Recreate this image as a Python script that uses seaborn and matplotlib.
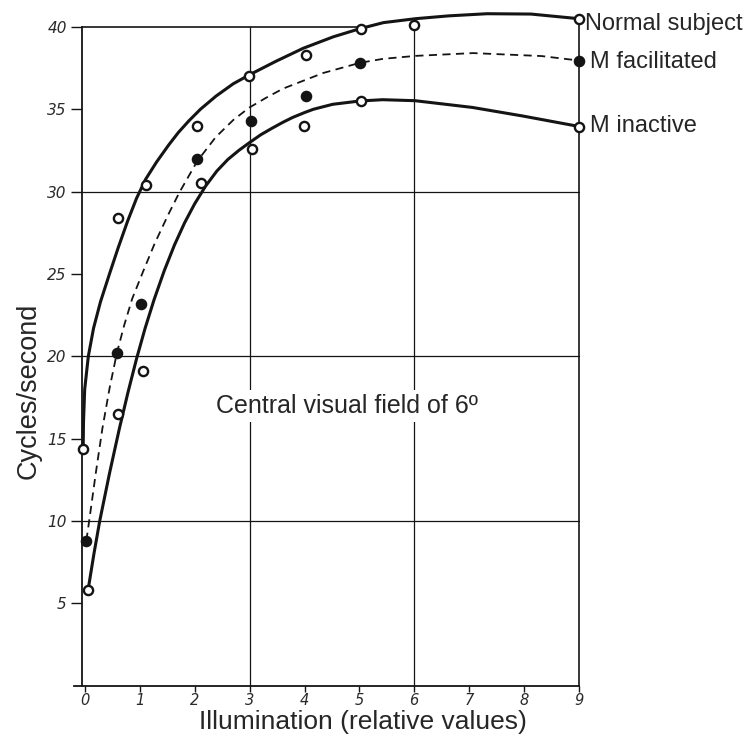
import matplotlib
matplotlib.use("Agg")
import matplotlib.pyplot as plt
import seaborn as sns
import pandas as pd

norm_x = [-0.04, 0.60, 1.11, 2.03, 2.98, 4.02, 5.03, 6.00, 9.00]
norm_y = [14.4, 28.4, 30.4, 34.0, 37.0, 38.3, 39.9, 40.1, 40.5]
fac_x = [0.02, 0.57, 1.02, 2.04, 3.02, 4.03, 5.01, 9.00]
fac_y = [8.8, 20.2, 23.2, 32.0, 34.3, 35.8, 37.8, 37.9]
ina_x = [0.05, 0.59, 1.05, 2.11, 3.04, 3.99, 5.03, 9.00]
ina_y = [5.8, 16.5, 19.1, 30.5, 32.6, 34.0, 35.5, 33.9]

# ---- hand-drawn fitted curves ----
norm_cx = [-0.04, -0.034, -0.012, 0.054, 0.149, 0.275, 0.44, 0.60, 0.77, 0.935, 1.10, 1.30,
           1.525, 1.70, 1.89, 2.10, 2.385, 2.70, 3.00, 3.47, 3.974, 4.526, 5.018, 5.44,
           6.03, 6.63, 7.33, 8.13, 9.0]
norm_cy = [14.4, 16.0, 18.0, 20.0, 21.7, 23.3, 25.0, 26.6, 28.2, 29.6, 30.75, 31.8,
           32.85, 33.6, 34.3, 35.0, 35.8, 36.55, 37.1, 37.9, 38.7, 39.4, 39.9, 40.26,
           40.5, 40.67, 40.8, 40.78, 40.5]
fac_cx = [0.018, 0.082, 0.19, 0.31, 0.438, 0.575, 0.71, 0.855, 1.06, 1.265, 1.512, 1.716,
          2.042, 2.377, 2.70, 2.992, 3.30, 3.606, 4.339, 5.011, 5.432, 6.023, 7.073, 8.323, 9.0]
fac_cy = [8.8, 10.3, 12.9, 15.6, 18.0, 20.2, 21.9, 23.5, 25.2, 26.85, 28.6, 29.95,
          31.85, 33.3, 34.35, 35.1, 35.7, 36.25, 37.2, 37.82, 38.06, 38.24, 38.41, 38.23, 37.96]
ina_cx = [0.049, 0.156, 0.262, 0.441, 0.62, 0.777, 0.934, 1.09, 1.255, 1.44, 1.625, 1.81,
          1.993, 2.197, 2.40, 2.60, 2.80, 2.985, 3.20, 3.408, 3.60, 3.781, 4.00, 4.162,
          4.513, 5.004, 5.424, 6.014, 7.063, 7.981, 9.0]
ina_cy = [5.8, 8.0, 10.0, 12.9, 15.6, 17.8, 19.85, 21.7, 23.45, 25.2, 26.75, 28.1,
          29.25, 30.35, 31.25, 31.95, 32.5, 32.95, 33.45, 33.85, 34.2, 34.5, 34.8, 35.0,
          35.3, 35.5, 35.58, 35.52, 35.11, 34.59, 33.96]

x_ticks = [0, 1, 2, 3, 4, 5, 6, 7, 8, 9]
y_ticks = [5, 10, 15, 20, 25, 30, 35, 40]
series_labels = ["Normal subject", "M facilitated", "M inactive"]

sns.set_style("ticks")
plt.rcParams["font.family"] = ["Liberation Sans", "DejaVu Sans"]

W, H = 755, 742
fig = plt.figure(figsize=(W / 100, H / 100), dpi=100)
# x px = 85.4 + 54.8*x ; y px = 685.7 - 16.47*y
ax = fig.add_axes([74.4 / W, (H - 685.7) / H, 9.2 * 54.8 / W, 40 * 16.47 / H])
ax.set_xlim(-0.2, 9.0)
ax.set_ylim(0, 40)

ink = "#141414"
AX0 = -0.06
# frame & grid
ax.plot([AX0, 5.0], [40, 40], color=ink, lw=1.2, zorder=1, clip_on=False)
ax.plot([9, 9], [0, 40.5], color=ink, lw=1.2, zorder=1, clip_on=False)
ax.plot([3, 3], [0, 40], color=ink, lw=0.9, zorder=1)
ax.plot([6, 6], [0, 40.1], color=ink, lw=0.9, zorder=1, clip_on=False)
for gy in [10, 20, 30]:
    ax.plot([AX0, 9], [gy, gy], color=ink, lw=0.9, zorder=1)

# curves
curves = pd.concat([
    pd.DataFrame({"x": norm_cx, "y": norm_cy, "s": "n"}),
    pd.DataFrame({"x": ina_cx, "y": ina_cy, "s": "i"}),
])
sns.lineplot(data=curves, x="x", y="y", units="s", estimator=None, sort=False,
             color=ink, lw=2.2, ax=ax, zorder=3)
sns.lineplot(x=fac_cx, y=fac_cy, sort=False, color=ink, lw=1.3, ax=ax, zorder=3,
             linestyle=(0, (4.5, 3.0)))
for ln in ax.lines:
    ln.set_clip_on(False)
    ln.set_solid_joinstyle("round")
    ln.set_solid_capstyle("round")

# points
for xs, ys, filled in [(norm_x, norm_y, False), (fac_x, fac_y, True), (ina_x, ina_y, False)]:
    sns.scatterplot(x=xs, y=ys, ax=ax, s=44, marker="o",
                    facecolor=ink if filled else "white",
                    edgecolor=ink, linewidth=1.7, zorder=5)
for coll in ax.collections:
    coll.set_clip_on(False)

# spines
ax.spines["left"].set_position(("data", AX0))
ax.spines["top"].set_visible(False)
ax.spines["right"].set_visible(False)
for sp in ax.spines.values():
    sp.set_color(ink)
    sp.set_linewidth(1.3)

ax.set_xticks(x_ticks)
ax.set_yticks(y_ticks)
ax.set_xticklabels([str(t) for t in x_ticks], fontsize=10.5, style="italic",
                   family="DejaVu Sans", color="#2a2a2a")
ax.set_yticklabels([str(t) for t in y_ticks], fontsize=11, style="italic",
                   family="DejaVu Sans", color="#2a2a2a")
ax.tick_params(axis="x", direction="out", length=4, width=1.0, color=ink, pad=1.5)
ax.tick_params(axis="y", direction="out", length=8, width=1.0, color=ink, pad=3)
ax.set_xlabel("")
ax.set_ylabel("")

# series labels
ax.text(9.12, 39.81, series_labels[0], fontsize=17, ha="left", va="baseline", clip_on=False)
ax.text(9.2, 37.49, series_labels[1], fontsize=17, ha="left", va="baseline", clip_on=False)
ax.text(9.2, 33.64, series_labels[2], fontsize=17, ha="left", va="baseline", clip_on=False)

ax.text(4.78, 16.56, "Central visual field of 6º", fontsize=18, ha="center", va="baseline",
        bbox=dict(facecolor="white", edgecolor="none", pad=3), zorder=4)

fig.text(363 / W, 1 - 729 / H, "Illumination (relative values)", fontsize=19,
         ha="center", va="baseline")
fig.text(29 / W, 1 - 391 / H, "Cycles/second", fontsize=19.5, rotation=90,
         ha="center", va="center")

fig.savefig("out.png", dpi=100)
